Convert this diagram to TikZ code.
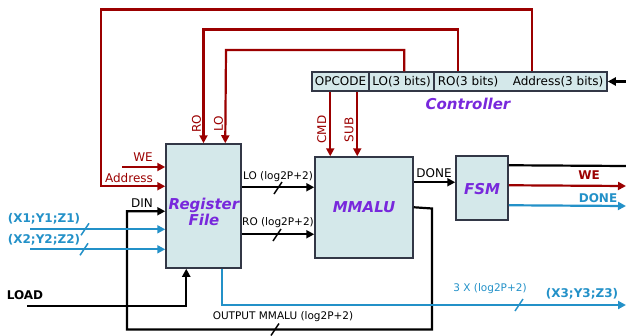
\documentclass[tikz,border=0pt]{standalone}
\usepackage{fontspec}
\setmainfont{DejaVu Sans}
\usetikzlibrary{arrows.meta,calc}
\definecolor{redc}{RGB}{155,0,0}
\definecolor{bluc}{RGB}{35,145,200}
\definecolor{purc}{RGB}{120,40,220}
\definecolor{boxc}{RGB}{212,232,234}
\definecolor{bordc}{RGB}{50,55,70}
\begin{document}
\begin{tikzpicture}[x=1pt,y=-1pt,
  box/.style={draw=bordc, fill=boxc, line width=1.5pt, inner sep=0pt},
  ln/.style={line width=2.2pt},
  arr/.style={-{Triangle[length=8pt,width=8pt]}},
  lbl/.style={font=\fontsize{12}{14}\selectfont, inner sep=0pt},
  sml/.style={font=\fontsize{10.5}{12}\selectfont, inner sep=0pt},
  ttl/.style={font=\fontsize{15}{14}\selectfont\bfseries\itshape, text=purc, inner sep=0pt, align=center},
  bld/.style={font=\fontsize{12}{14}\selectfont\bfseries, inner sep=0pt},
  slash/.style={line width=1.5pt}
]
\useasboundingbox (0,0) rectangle (626,335);

% blocks
\node[box, minimum width=75pt, minimum height=124pt] (rf) at (203.5,206) {};
\node[ttl] (rft) at (204,212) {Register\\File};
\node[box, minimum width=98pt, minimum height=101pt] (mmalu) at (364,207.5) {};
\node[ttl] (mmt) at (364,207) {MMALU};
\node[box, minimum width=52pt, minimum height=64pt] (fsm) at (482,188) {};
\node[ttl] (fsmt) at (482,189) {FSM};

% controller
\node[box, minimum width=57pt, minimum height=19pt] (opf) at (340.5,81.5) {};
\node[box, minimum width=65pt, minimum height=19pt] (lof) at (401.5,81.5) {};
\node[box, minimum width=173pt, minimum height=19pt] (raf) at (520.5,81.5) {};
\node[lbl] (opt) at (opf.center) {OPCODE};
\node[lbl] (lot) at (lof.center) {LO(3 bits)};
\node[lbl] (rot) at (468,81.5) {RO(3 bits)};
\node[lbl] (adt) at (558,81.5) {Address(3 bits)};
\node[ttl] (ctt) at (468,104) {Controller};

% free ends
\coordinate (weS) at (122,167);
\coordinate (ctlin) at (626,81.5);
\coordinate (x1S) at (30,229.3);
\coordinate (x2S) at (30,249.3);
\coordinate (loadS) at (27,306);
\coordinate (outE) at (626,305);
\coordinate (f1E) at (626,166);
\coordinate (f2E) at (626,186);
\coordinate (f3E) at (626,206);

% red connectors
\begin{scope}[redc, ln]
\draw[arr] ($(raf.north west)+(99,0)$) |- (101,9.5) |- ($(rf.north west)+(0,43)$);
\draw[arr] ($(raf.north west)+(25,0)$) |- (203.5,29.5) -- (rf.north);
\draw[arr] ($(lof.north west)+(36,0)$) |- (226,50) -- ($(rf.north west)+(60,0)$);
\draw[arr] (weS) -- (weS -| rf.west);
\draw[arr] ($(opf.south west)+(19,0)$) -- ($(mmalu.north west)+(16,0)$);
\draw[arr] ($(opf.south west)+(46,0)$) -- ($(mmalu.north west)+(43,0)$);
\draw[arr] ($(fsm.north east)+(0,30)$) -- (f2E);
\end{scope}
\node[lbl, text=redc] (wel) at (143,157) {WE};
\node[lbl, text=redc] (adl) at (129,178) {Address};
\node[lbl, text=redc, rotate=90] (rol) at (196.5,123.5) {RO};
\node[lbl, text=redc, rotate=90] (lol) at (218.5,123.5) {LO};
\node[lbl, text=redc, rotate=90] (cmdl) at (321.7,129.5) {CMD};
\node[lbl, text=redc, rotate=90] (subl) at (349,130) {SUB};
\node[bld, text=redc] (we2) at (589,175) {WE};

% black connectors
\begin{scope}[black, ln]
\draw[arr] (ctlin) -- (raf.east);
\draw[arr] ($(rf.north east)+(0,44)$) coordinate (lo1) -- (lo1 -| mmalu.west);
\draw[arr] ($(rf.north east)+(0,91)$) coordinate (ro1) -- (ro1 -| mmalu.west);
\draw[arr] ($(mmalu.north east)+(0,26)$) coordinate (dn1) -- (dn1 -| fsm.west);
\draw[arr] ($(mmalu.north east)+(0,51)$) -- (432,208.5) -- (432,329.5) -- (127,329.5) |- ($(rf.north west)+(0,68)$);
\draw[arr] (loadS) -| ($(rf.south west)+(21,0)$);
\draw ($(fsm.north east)+(0,10)$) -- (f1E);
\draw[slash] (278,188) ++(-4,6) -- ++(8,-12);
\draw[slash] (277,235) ++(-4,6) -- ++(8,-12);
\draw[slash] (275,329.5) ++(-4,6) -- ++(8,-12);
\end{scope}
\node[sml] (lolog) at (278,177) {LO (log2P+2)};
\node[sml] (rolog) at (278,223) {RO (log2P+2)};
\node[sml] (outl) at (283,317) {OUTPUT MMALU (log2P+2)};
\node[lbl] (donel) at (434,172.7) {DONE};
\node[lbl] (dinl) at (142,203) {DIN};
\node[bld] (loadl) at (25,295) {LOAD};

% blue connectors
\begin{scope}[bluc, ln]
\draw[arr] (x1S) -- (x1S -| rf.west);
\draw[arr] (x2S) -- (x2S -| rf.west);
\draw[arr] ($(rf.south west)+(57,0)$) |- (outE);
\draw[arr] ($(fsm.north east)+(0,50)$) -- (f3E);
\draw[slash] (85,229.3) ++(-4,6) -- ++(8,-12);
\draw[slash] (84,249.3) ++(-4,6) -- ++(8,-12);
\draw[slash] (519,305) ++(-4,6) -- ++(8,-12);
\end{scope}
\node[bld, text=bluc] (x1l) at (44,219) {(X1;Y1;Z1)};
\node[bld, text=bluc] (x2l) at (44,240) {(X2;Y2;Z2)};
\node[sml, text=bluc] (o3l) at (490,289) {3 X (log2P+2)};
\node[bld, text=bluc] (x3l) at (582,294) {(X3;Y3;Z3)};
\node[bld, text=bluc] (dn2) at (598,198) {DONE};
\end{tikzpicture}
\end{document}
